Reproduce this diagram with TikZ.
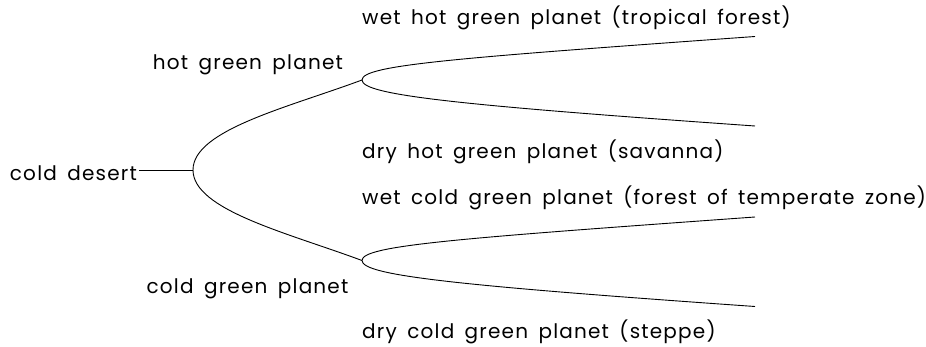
\documentclass[tikz,border=0pt]{standalone}
\usepackage{fontspec}
\setmainfont{Poppins}[LetterSpace=6,WordSpace=1.6]
\begin{document}
\begin{tikzpicture}[x=1pt,y=-1pt,
    lbl/.style={anchor=base west,inner sep=0pt,font=\fontsize{20}{24}\selectfont},
    mid/.style={lbl,anchor=base},
    branch/.style={line width=0.9pt}]
  \useasboundingbox (0,0) rectangle (926,347);
  % fork points and tips of the tree
  \coordinate (root) at (193,170);
  \coordinate (f1) at (362,80);
  \coordinate (f2) at (362,260.5);
  \coordinate (e1) at (755,36.5);
  \coordinate (e2) at (755,126);
  \coordinate (e3) at (755,217);
  \coordinate (e4) at (755,306.5);
  % labels
  \node[mid] (cd) at (73.4,180.7) {cold desert};
  \node[mid] (hg) at (247.9,69.3) {hot green planet};
  \node[mid] (cg) at (247.5,293.3) {cold green planet};
  \node[lbl] (whg) at (362,25) {wet hot green planet (tropical forest)};
  \node[lbl] (dhg) at (362,159) {dry hot green planet (savanna)};
  \node[lbl] (wcg) at (362,205) {wet cold green planet (forest of temperate zone)};
  \node[lbl] (dcg) at (362,338.3) {dry cold green planet (steppe)};
  % stem and the two levels of forks
  \draw[branch] ([xshift=2pt]root -| cd.east) -- (root);
  \draw[branch] (root) .. controls +(0,-40) and +(-74,27.5) .. (f1);
  \draw[branch] (root) .. controls +(0,40) and +(-74,-27.5) .. (f2);
  \draw[branch] (f1) .. controls +(0,-15) and +(-299,21.5) .. (e1);
  \draw[branch] (f1) .. controls +(0,15) and +(-299,-21) .. (e2);
  \draw[branch] (f2) .. controls +(0,-15) and +(-299,21.5) .. (e3);
  \draw[branch] (f2) .. controls +(0,15) and +(-299,-21) .. (e4);
\end{tikzpicture}
\end{document}
